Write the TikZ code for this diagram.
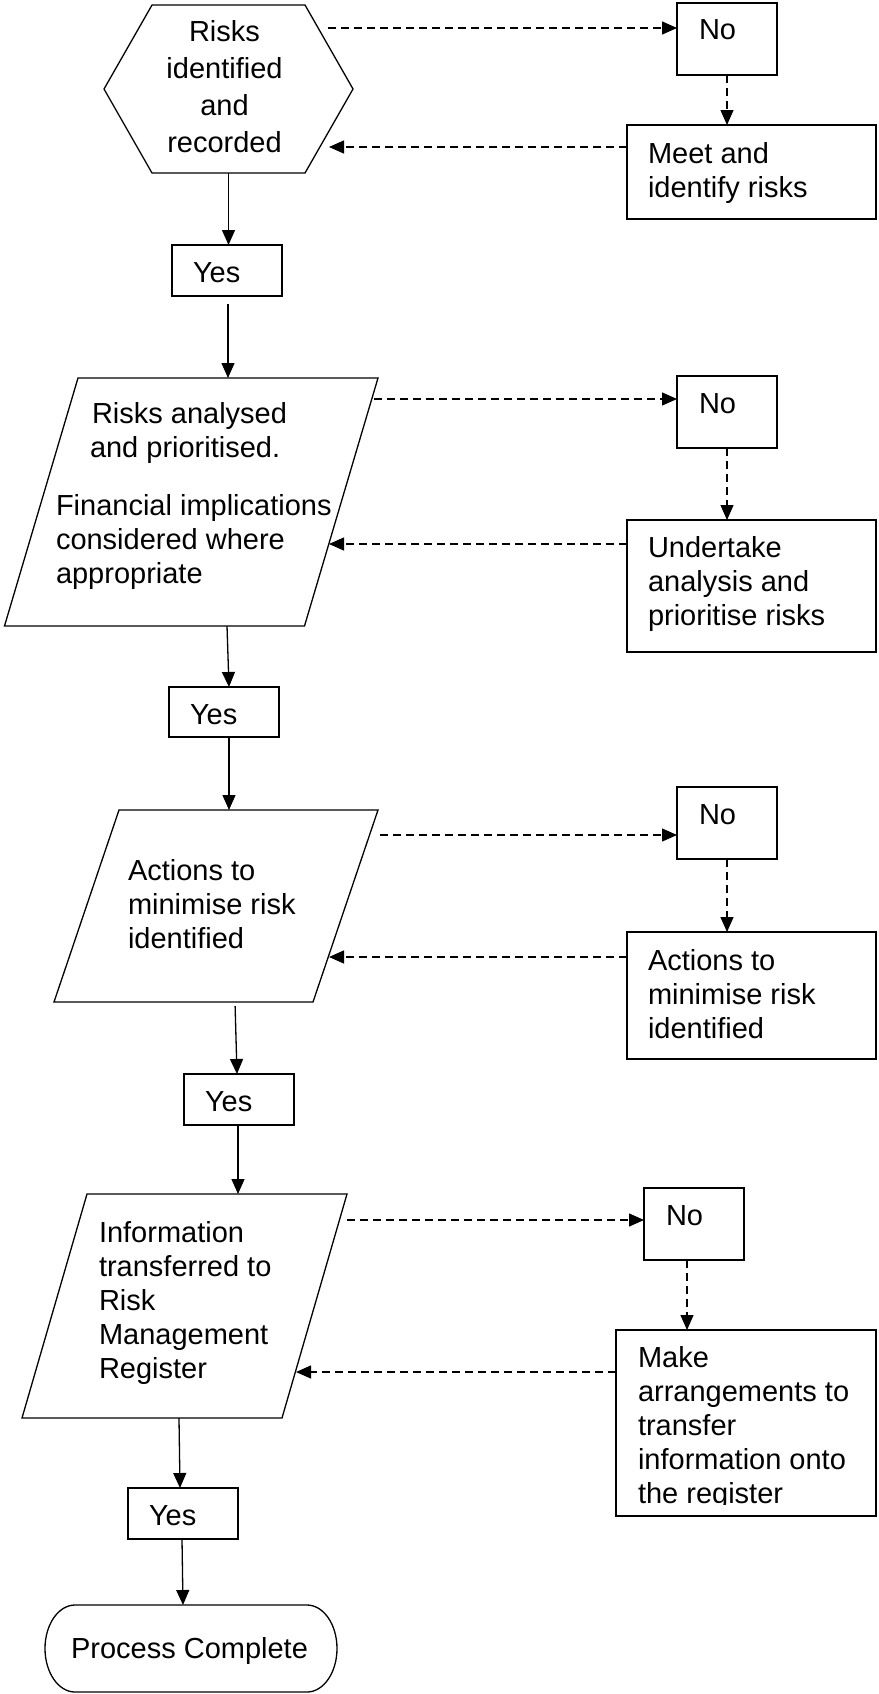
\documentclass[tikz,border=0pt]{standalone}
\usepackage{fontspec}
\setmainfont{Liberation Sans}
\usetikzlibrary{arrows.meta,calc}
\newcommand\fsz{\fontsize{29}{34}\selectfont}
\begin{document}
\begin{tikzpicture}[x=1pt,y=-1pt,
  lw/.style={line width=1.3pt},
  box/.style={draw, lw, rectangle, inner sep=0pt, outer sep=0pt},
  bb/.style={rectangle, inner sep=0pt, outer sep=0pt},
  shp/.style={draw, lw, line join=miter},
  txt/.style={font=\fsz, inner sep=0pt, outer sep=0pt, align=left, anchor=north west},
  lbl/.style={font=\fsz, inner sep=0pt, outer sep=0pt, anchor=base west},
  sarr/.style={lw, -{Triangle[length=15pt,width=13pt]}},
  darr/.style={lw, dash pattern=on 8pt off 5pt, -{Triangle[length=15pt,width=13pt]}},
]
\useasboundingbox (0,0) rectangle (878,1694);

% ---------- left column shapes ----------
\node[bb, minimum width=249pt, minimum height=168pt] (hex) at (228.5,89) {};
\draw[shp] (hex.west) -- ([xshift=48pt]hex.north west) -- ([xshift=-48pt]hex.north east)
  -- (hex.east) -- ([xshift=-48pt]hex.south east) -- ([xshift=48pt]hex.south west) -- cycle;
\node[txt, align=center, anchor=north, font=\fontsize{29}{36.7}\selectfont] (hext) at (224.5,16.3)
  {\strut Risks\\\strut identified\\\strut and\\\strut recorded};

\node[box, minimum width=110pt, minimum height=51pt] (yes1) at (227,270.5) {};
\node[lbl] (yes1t) at ([xshift=21pt,yshift=-37pt]yes1.north west) {Yes};

\node[bb, minimum width=373.5pt, minimum height=248pt] (p1) at (191.25,502) {};
\draw[shp] ([xshift=73.5pt]p1.north west) -- (p1.north east) -- ([xshift=-73.5pt]p1.south east)
  -- (p1.south west) -- cycle;
\node[txt] (p1t) at (56,399.2)
  {\hspace*{36pt}\strut Risks analysed\\\hspace*{34pt}\strut and prioritised.\\[24pt]
   \strut Financial implications\\\strut considered where\\\strut appropriate};

\node[box, minimum width=110pt, minimum height=50pt] (yes2) at (224,712) {};
\node[lbl] (yes2t) at ([xshift=21pt,yshift=-37pt]yes2.north west) {Yes};

\node[bb, minimum width=324pt, minimum height=192pt] (p2) at (216,906) {};
\draw[shp] ([xshift=65pt]p2.north west) -- (p2.north east) -- ([xshift=-65pt]p2.south east)
  -- (p2.south west) -- cycle;
\node[txt] (p2t) at (128,856.2)
  {\strut Actions to\\\strut minimise risk\\\strut identified};

\node[box, minimum width=110pt, minimum height=51pt] (yes3) at (239,1099.5) {};
\node[lbl] (yes3t) at ([xshift=21pt,yshift=-37pt]yes3.north west) {Yes};

\node[bb, minimum width=325pt, minimum height=224pt] (p3) at (184.5,1306) {};
\draw[shp] ([xshift=65pt]p3.north west) -- (p3.north east) -- ([xshift=-65pt]p3.south east)
  -- (p3.south west) -- cycle;
\node[txt] (p3t) at (99,1218.2)
  {\strut Information\\\strut transferred to\\\strut Risk\\\strut Management\\\strut Register};

\node[box, minimum width=110pt, minimum height=51pt] (yes4) at (183,1513.5) {};
\node[lbl] (yes4t) at ([xshift=21pt,yshift=-37pt]yes4.north west) {Yes};

\node[bb, minimum width=292pt, minimum height=87pt] (term) at (191,1648.5) {};
\draw[shp] ([xshift=30pt]term.north west) -- ([xshift=-30pt]term.north east)
  arc[start angle=90, end angle=-90, x radius=30pt, y radius=43.5pt]
  -- ([xshift=30pt]term.south west)
  arc[start angle=270, end angle=90, x radius=30pt, y radius=43.5pt] -- cycle;
\node[font=\fsz, inner sep=0pt, anchor=base] (termt) at (189.5,1658) {Process Complete};

% ---------- right column boxes ----------
\node[box, minimum width=100pt, minimum height=72pt] (no1) at (727,39) {};
\node[lbl] (no1t) at ([xshift=22pt,yshift=-37pt]no1.north west) {No};
\node[box, minimum width=249pt, minimum height=94pt] (meet) at (751.5,172) {};
\node[txt] (meett) at (648,139.2) {\strut Meet and\\\strut identify risks};

\node[box, minimum width=100pt, minimum height=72pt] (no2) at (727,412) {};
\node[lbl] (no2t) at ([xshift=22pt,yshift=-37pt]no2.north west) {No};
\node[box, minimum width=249pt, minimum height=132pt] (und) at (751.5,586) {};
\node[txt] (undt) at (648,533.2) {\strut Undertake\\\strut analysis and\\\strut prioritise risks};

\node[box, minimum width=100pt, minimum height=72pt] (no3) at (727,823) {};
\node[lbl] (no3t) at ([xshift=22pt,yshift=-37pt]no3.north west) {No};
\node[box, minimum width=249pt, minimum height=127pt] (act) at (751.5,995.5) {};
\node[txt] (actt) at (648,946.2) {\strut Actions to\\\strut minimise risk\\\strut identified};

\node[box, minimum width=100pt, minimum height=72pt] (no4) at (694,1224) {};
\node[lbl] (no4t) at ([xshift=22pt,yshift=-37pt]no4.north west) {No};
\node[box, minimum width=260pt, minimum height=186pt] (make) at (746,1423) {};
\begin{scope}
  \clip (make.north west) rectangle ([yshift=12pt]make.south east);
  \node[txt] (maket) at (638,1343.2)
    {\strut Make\\\strut arrangements to\\\strut transfer\\\strut information onto\\\strut the register};
\end{scope}

% ---------- solid connectors ----------
\draw[sarr] (hex.south) -- (hex.south |- yes1.north);
\draw[sarr, shorten <=8pt] ([xshift=1pt]yes1.south) -- ([xshift=1pt]yes1.south |- p1.north);
\draw[sarr] ([xshift=35.75pt]p1.south) -- ([xshift=5pt]yes2.north);
\draw[sarr] ([xshift=5pt]yes2.south) -- ([xshift=5pt]yes2.south |- p2.north);
\draw[sarr, shorten <=4pt] ([xshift=19pt]p2.south) -- ([xshift=-2pt]yes3.north);
\draw[sarr] ([xshift=-1pt]yes3.south) -- ([xshift=-1pt]yes3.south |- p3.north);
\draw[sarr] ([xshift=-5.5pt]p3.south) -- ([xshift=-3pt]yes4.north);
\draw[sarr] ([xshift=-1pt]yes4.south) -- ([xshift=-8pt]term.north);

% ---------- dashed connectors ----------
\coordinate (h1) at (328,28);
\coordinate (h2) at (329,147);
\draw[darr] (h1) -- (h1 -| no1.west);
\draw[darr] (no1.south) -- (no1.south |- meet.north);
\draw[darr] (h2 -| meet.west) -- (h2);

\coordinate (q1) at (374,399);
\coordinate (q2) at (329,544);
\draw[darr] (q1) -- (q1 -| no2.west);
\draw[darr] (no2.south) -- (no2.south |- und.north);
\draw[darr] (q2 -| und.west) -- (q2);

\coordinate (r1) at (380,835);
\coordinate (r2) at (329,957);
\draw[darr] (r1) -- (r1 -| no3.west);
\draw[darr] (no3.south) -- (no3.south |- act.north);
\draw[darr] (r2 -| act.west) -- (r2);

\coordinate (s1) at (347,1220);
\coordinate (s2) at (296,1372);
\draw[darr] (s1) -- (s1 -| no4.west);
\draw[darr] ([xshift=-7pt]no4.south) -- ([xshift=-7pt]no4.south |- make.north);
\draw[darr] (s2 -| make.west) -- (s2);
\end{tikzpicture}
\end{document}
